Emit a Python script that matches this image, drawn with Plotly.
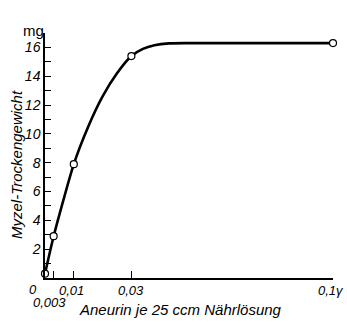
import plotly.graph_objects as go

# measured points
pt_x = [0, 0.003, 0.01, 0.03, 0.1]
pt_y = [0.3, 2.9, 7.9, 15.4, 16.3]

# hand-drawn smooth curve
curve_x = [0, 0.003, 0.01, 0.015, 0.02, 0.025, 0.03, 0.034, 0.038, 0.043, 0.05, 0.1]
curve_y = [0.3, 2.9, 7.9, 10.5, 12.6, 14.2, 15.4, 15.9, 16.15, 16.28, 16.3, 16.3]

y_tickvals = list(range(1, 17))
y_ticktext = [str(v) if v % 2 == 0 else "" for v in y_tickvals]

x_tickvals = [0.003, 0.01, 0.03, 0.1]
x_labels = ["0", "0,003", "0,01", "0,03", "0,1γ"]
x_label_pos = [0, 0.003, 0.01, 0.03, 0.1]

FONT = "Liberation Sans, Arial, sans-serif"

# plot area in page pixels
L, R, T, B = 45, 333, 33, 278
W, H = 347, 327


def px(xp):
    return (xp - L) / (R - L)


def py(yp):
    return (B - yp) / (B - T)


fig = go.Figure()
fig.add_trace(go.Scatter(x=curve_x, y=curve_y, mode="lines",
                         line=dict(color="black", width=2.6, shape="spline", smoothing=0.6),
                         hoverinfo="skip", cliponaxis=False))
fig.add_trace(go.Scatter(x=pt_x, y=pt_y, mode="markers",
                         marker=dict(symbol="circle", size=7, color="white",
                                     line=dict(color="black", width=1.2)),
                         cliponaxis=False))

fig.update_layout(
    width=W, height=H,
    margin=dict(l=L, r=W - R, t=T, b=H - B, autoexpand=False),
    paper_bgcolor="white", plot_bgcolor="white",
    showlegend=False,
    font=dict(family=FONT, color="black", size=14, style="italic"),
)
fig.update_xaxes(range=[0, 0.1], showgrid=False, zeroline=False,
                 showline=True, linecolor="black", linewidth=1.5,
                 tickvals=x_tickvals, ticktext=["", "", "", ""],
                 ticks="inside", ticklen=7, tickcolor="black", tickwidth=1.2)
fig.update_yaxes(range=[0, 17], showgrid=False, zeroline=False,
                 showline=True, linecolor="black", linewidth=1.5,
                 tickvals=y_tickvals, ticktext=y_ticktext,
                 ticks="inside", ticklen=6, tickcolor="black", tickwidth=1.2,
                 tickfont=dict(family=FONT, size=14, style="italic"))

# x tick labels: (xshift, page-y of centre, anchor)
shifts = [(-12, 289, "center"), (-4, 302, "center"), (-2, 290, "center"),
          (0, 290, "center"), (13, 290, "right")]
for lab, xv, (xs, yp, anc) in zip(x_labels, x_label_pos, shifts):
    fig.add_annotation(x=xv, y=py(yp), xref="x", yref="paper", text=lab,
                       showarrow=False, xanchor=anc, yanchor="middle",
                       xshift=xs,
                       font=dict(family=FONT, size=13, style="italic"))

fig.add_annotation(x=px(180), y=py(309), xref="paper", yref="paper",
                   text="Aneurin je 25 ccm Nährlösung", xanchor="center", yanchor="middle",
                   showarrow=False, font=dict(family=FONT, size=15, style="italic"))

fig.add_annotation(x=px(16), y=py(165), xref="paper", yref="paper",
                   text="Myzel-Trockengewicht", textangle=-90, showarrow=False,
                   xanchor="center", yanchor="middle",
                   font=dict(family=FONT, size=15, style="italic"))
fig.add_annotation(x=px(33), y=py(31), xref="paper", yref="paper",
                   text="mg", showarrow=False, xanchor="center", yanchor="middle",
                   font=dict(family=FONT, size=15, style="normal"))

fig.write_html("out.html", config={"displayModeBar": False},
               post_script="document.body.style.margin='0';document.body.style.overflow='hidden';")
